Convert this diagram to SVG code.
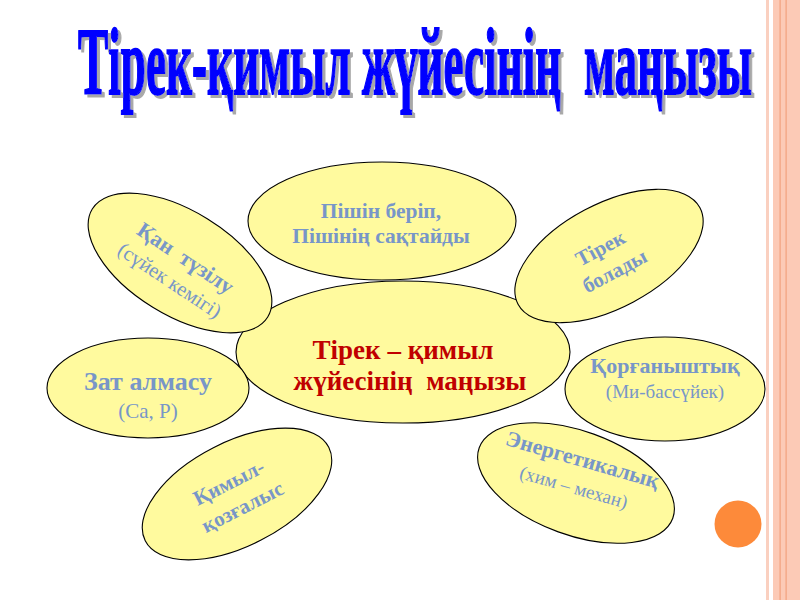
<svg xmlns="http://www.w3.org/2000/svg" width="800" height="600" viewBox="0 0 800 600">
<defs>
<filter id="sh" x="-5%" y="-20%" width="115%" height="150%">
<feOffset in="SourceAlpha" dx="3" dy="3" result="o"/>
<feFlood flood-color="#A8A8A8"/>
<feComposite operator="in" in2="o" result="s"/>
<feMerge><feMergeNode in="s"/><feMergeNode in="SourceGraphic"/></feMerge>
</filter>
</defs>
<style>
.el{fill:#FFFA9E;stroke:#000;stroke-width:1.1}
.t{font-family:"Liberation Serif","Times New Roman",serif;text-anchor:middle;fill:#7896C8}
.b{font-weight:bold}
.c{font-family:"Liberation Serif","Times New Roman",serif;text-anchor:middle;fill:#C00000;font-weight:bold;font-size:27px}
.title{font-family:"Liberation Serif","Times New Roman",serif;font-weight:bold;font-size:96px}
</style>
<rect width="800" height="600" fill="#fff"/>
<g id="border">
<rect x="766" y="0" width="3" height="600" fill="#FAD0C0"/>
<rect x="773" y="0" width="27" height="600" fill="#FCCAB6"/>
<rect x="779.5" y="0" width="1.2" height="600" fill="#F2A27E"/>
<rect x="785.5" y="0" width="1.2" height="600" fill="#F2A27E"/>
</g>
<g id="title" filter="url(#sh)">
<text class="title" transform="translate(78,94) scale(0.476,1)" fill="#0000FF" stroke="#0000FF" stroke-width="2" textLength="1416" lengthAdjust="spacingAndGlyphs">Тірек-қимыл жүйесінің&#160; маңызы</text>
</g>
<g id="center">
<ellipse class="el" cx="403" cy="352" rx="167" ry="71"/>
<text class="c" x="403" y="359">Тірек – қимыл</text>
<text class="c" x="410" y="390">жүйесінің&#160; маңызы</text>
</g>
<g id="top">
<ellipse class="el" cx="382" cy="221" rx="134" ry="59"/>
<text class="t b" x="381" y="218" font-size="21.5">Пішін беріп,</text>
<text class="t b" x="381" y="243" font-size="21.5">Пішінің сақтайды</text>
</g>
<g id="topleft" transform="translate(180,263) rotate(31.6)">
<ellipse class="el" cx="0" cy="0" rx="103" ry="52"/>
<g transform="rotate(2)">
<text class="t b" x="2" y="0" font-size="22">Қан&#160; түзілу</text>
<text class="t" x="1" y="27" font-size="20.5">(сүйек кемігі)</text>
</g>
</g>
<g id="topright" transform="translate(609,256) rotate(-28)">
<ellipse class="el" cx="0" cy="0" rx="103" ry="52"/>
<text class="t b" x="-4" y="-4" font-size="21">Тірек</text>
<text class="t b" x="-2" y="23" font-size="21">болады</text>
</g>
<g id="left">
<ellipse class="el" cx="148" cy="388" rx="101" ry="50"/>
<text class="t b" x="148" y="390" font-size="26">Зат алмасу</text>
<text class="t" x="148" y="418" font-size="21">(Са, Р)</text>
</g>
<g id="right">
<ellipse class="el" cx="665" cy="389" rx="100" ry="52"/>
<text class="t b" x="665" y="373" font-size="22">Қорғаныштық</text>
<text class="t" x="665" y="398" font-size="19">(Ми-бассүйек)</text>
</g>
<g id="bottomleft" transform="translate(237,494) rotate(-27)">
<ellipse class="el" cx="0" cy="0" rx="103" ry="52"/>
<text class="t b" x="-2" y="-7" font-size="21">Қимыл-</text>
<text class="t b" x="-1" y="21" font-size="21">қозғалыс</text>
</g>
<g id="bottomright" transform="translate(576,483) rotate(20)">
<ellipse class="el" cx="0" cy="0" rx="103" ry="52"/>
<g transform="rotate(-4)">
<text class="t b" x="0" y="-17" font-size="22">Энергетикалық</text>
<text class="t" x="-1" y="11" font-size="19">(хим – механ)</text>
</g>
</g>
<circle id="dot" cx="738" cy="524" r="23.5" fill="#FD8A3A"/>
</svg>
